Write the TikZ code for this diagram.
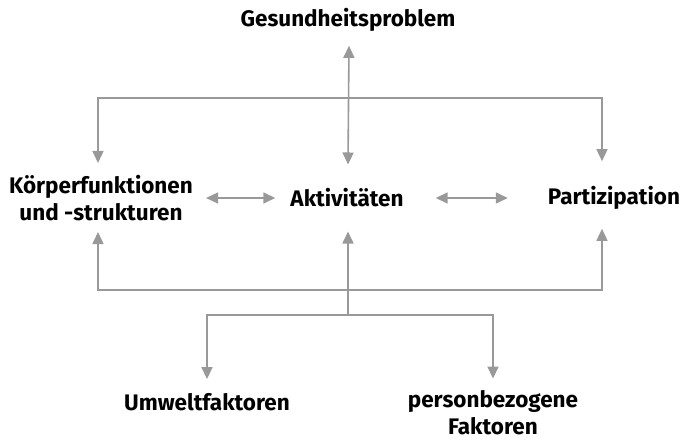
\documentclass[tikz,border=0pt]{standalone}
\usepackage{fontspec}
\setmainfont{Fira Sans}
\usetikzlibrary{arrows.meta}
\definecolor{linkgray}{HTML}{999999}

\begin{document}
\begin{tikzpicture}[
    x=1pt, y=-1pt,
    every node/.style={font=\fontsize{22.5}{27}\selectfont\bfseries, inner sep=0pt, align=center},
    flow/.style={-{Triangle[length=12pt, width=11pt]}, line width=1.6pt, draw=linkgray},
    both/.style={flow, {Triangle[length=12pt, width=11pt]}-{Triangle[length=12pt, width=11pt]}}
]
\useasboundingbox (0,0) rectangle (686,441);
\node (health) at (348,20) {Gesundheitsproblem};
\node (body) at (101,198) {Körperfunktionen\\und -strukturen};
\node (activity) at (347,198) {Aktivitäten};
\node (participation) at (614,198) {Partizipation};
\node (environment) at (207,402) {Umweltfaktoren};
\node (personal) at (493,413) {personbezogene\\Faktoren};
\coordinate (upper) at (348,98);
\coordinate (lower) at (348,290);
\coordinate (split) at (348,315);
\draw[both] ([xshift=1pt,yshift=-14pt]health.south) -- ([xshift=1pt,yshift=24pt]activity.north);
\draw[flow] (upper) -| ([xshift=-3pt,yshift=12pt]body.north);
\draw[flow] (upper) -| ([xshift=-12pt,yshift=25pt]participation.north);
\draw[flow] (split) -- ([xshift=1pt,yshift=-24pt]activity.south);
\draw[flow] (lower) -| ([xshift=-3pt,yshift=-11pt]body.south);
\draw[flow] (lower) -| ([xshift=-12pt,yshift=-19pt]participation.south);
\draw[flow] (split) -| ([yshift=14pt]environment.north);
\draw[flow] (split) -| ([yshift=12pt]personal.north);
\draw[both] ([xshift=13pt]body.east) -- ([xshift=-15pt]activity.west);
\draw[both] ([xshift=32pt]activity.east) -- ([xshift=-40pt]participation.west);
\end{tikzpicture}
\end{document}
